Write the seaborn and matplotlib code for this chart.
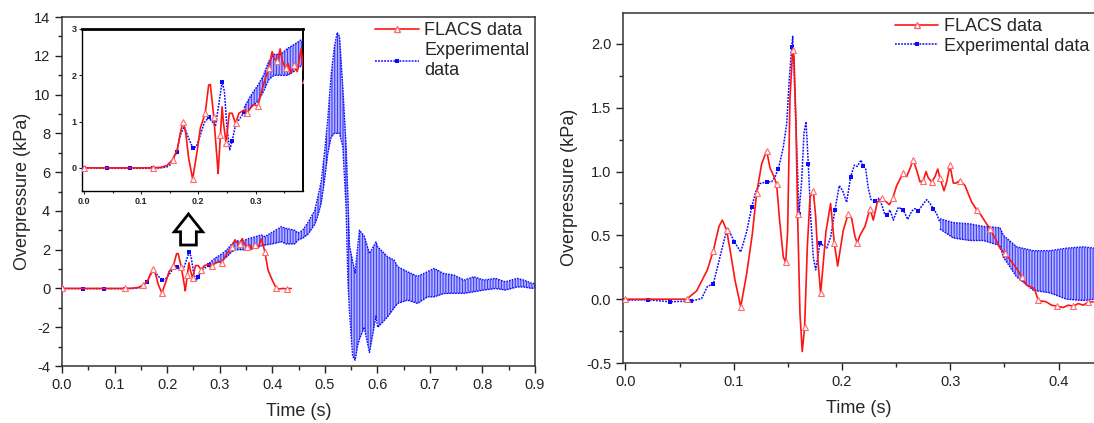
import matplotlib.pyplot as plt
from matplotlib.lines import Line2D
from matplotlib.ticker import MultipleLocator
import seaborn as sns

# ---------------- left chart : FLACS simulation (s, kPa)
flacs_t = [0, 0.04, 0.08, 0.12, 0.133, 0.145, 0.155, 0.163, 0.168, 0.173, 0.178, 0.183, 0.190,
           0.198, 0.2035, 0.212, 0.218, 0.221, 0.227, 0.233, 0.2345, 0.2386, 0.2415, 0.244,
           0.2485, 0.254, 0.259, 0.265, 0.271, 0.28, 0.285, 0.291, 0.297, 0.304, 0.312, 0.3175,
           0.323, 0.329, 0.333, 0.338, 0.343, 0.347, 0.3526, 0.3567, 0.361, 0.367, 0.373, 0.3796,
           0.386, 0.392, 0.400, 0.408, 0.414, 0.42, 0.428, 0.436]
flacs_p = [0, 0, 0, 0, 0.01, 0.05, 0.18, 0.39, 0.72, 1.0, 0.75, 0.21, -0.24,
           0.37, 0.86, 1.18, 1.79, 1.8, 1.1, 0.14, -0.12, 0.71, 1.32, 0.96,
           0.53, 1.18, 1.18, 0.96, 1.18, 1.25, 1.18, 1.29, 1.37, 1.33, 1.72, 1.94,
           2.15, 2.51, 2.36, 2.3, 2.57, 2.3, 2.15, 2.26, 2.04, 2.22, 2.08, 2.57,
           1.89, 0.95, 0.43, 0.0, -0.02, 0.0, -0.02, 0.0]

# ---------------- left chart : experiment, early smooth part
exp_t = [0, 0.04, 0.08, 0.12, 0.135, 0.145, 0.151, 0.1626, 0.1684, 0.1754, 0.183, 0.1907,
         0.1965, 0.2035, 0.2105, 0.218, 0.224, 0.2298, 0.2356, 0.2415, 0.2456, 0.25, 0.2549,
         0.259, 0.265, 0.271, 0.28]
exp_p = [0, -0.01, -0.01, -0.01, 0.0, 0.02, 0.07, 0.35, 0.71, 0.89, 0.64, 0.42,
         0.46, 0.71, 0.98, 1.09, 1.0, 0.9, 1.36, 1.86, 1.65, 0.86, 0.39,
         0.57, 0.93, 1.04, 1.2]

# ---------------- left chart : experiment, oscillating part (lower / upper envelope)
band_t = [0.28, 0.291, 0.305, 0.314, 0.323, 0.332, 0.344, 0.356, 0.367, 0.379, 0.386, 0.40,
          0.4174, 0.426, 0.4427, 0.449, 0.458, 0.468, 0.4806, 0.485, 0.4932, 0.4995, 0.5059,
          0.512, 0.518, 0.5235, 0.528, 0.5344, 0.5406, 0.544, 0.547, 0.553, 0.5577, 0.562,
          0.566, 0.575, 0.585, 0.5975, 0.6006, 0.6196, 0.632, 0.6385, 0.6574, 0.6764, 0.6953,
          0.708, 0.7263, 0.7456, 0.765, 0.7835, 0.8028, 0.8248, 0.8437, 0.8659, 0.8786,
          0.894, 0.9]
band_lo = [1.1, 1.3, 1.45, 1.65, 1.9, 2.0, 2.0, 2.0, 2.08, 2.2, 2.24, 2.3,
           2.41, 2.3, 2.3, 2.5, 2.6, 2.8, 3.3, 3.6, 4.4, 5.6, 7.0,
           7.8, 8.0, 8.0, 8.0, 7.3, 4.1, 0.4, -1.2, -3.5, -3.7, -3.0,
           -2.6, -2.0, -3.3, -1.4, -2.0, -1.46, -1.0, -0.77, -0.6, -0.77, -0.43,
           -0.43, -0.26, -0.25, -0.25, -0.17, -0.08, 0.0, -0.08, 0.08, 0.08,
           0.0, 0.05]
band_hi = [1.3, 1.55, 1.8, 2.0, 2.3, 2.45, 2.45, 2.58, 2.66, 2.76, 2.67, 2.9,
           3.18, 3.1, 3.0, 2.85, 3.0, 3.4, 4.0, 4.5, 5.5, 7.0, 8.8,
           11.0, 12.4, 13.2, 13.0, 10.3, 7.3, 4.7, 2.2, 1.4, 0.8, 2.0,
           3.0, 2.7, 1.8, 2.4, 2.15, 1.63, 1.46, 1.12, 0.86, 0.62, 0.86,
           1.03, 0.77, 0.69, 0.43, 0.6, 0.43, 0.52, 0.34, 0.52, 0.43,
           0.26, 0.25]

# ---------------- right chart : FLACS simulation
r_flacs_t = [0, 0.02, 0.04, 0.0566, 0.0658, 0.0757, 0.0812, 0.0864, 0.0895, 0.0935, 0.0966,
             0.1012, 0.1065, 0.112, 0.1172, 0.1212, 0.1258, 0.128, 0.1305, 0.1335, 0.1372,
             0.1397, 0.1421, 0.1458, 0.148, 0.1498, 0.152, 0.1545, 0.1557, 0.1575, 0.159,
             0.1612, 0.1633, 0.1655, 0.168, 0.1705, 0.1735, 0.1757, 0.178, 0.1803, 0.1852,
             0.1895, 0.1929, 0.196, 0.2012, 0.2058, 0.209, 0.212, 0.2141, 0.2166, 0.2212,
             0.2259, 0.2289, 0.2326, 0.2366, 0.2413, 0.2437, 0.2468, 0.2505, 0.2529, 0.2566,
             0.2597, 0.2635, 0.2658, 0.269, 0.272, 0.2751, 0.2776, 0.2797, 0.2828, 0.2859,
             0.2884, 0.2905, 0.2942, 0.2967, 0.2997, 0.3028, 0.3053, 0.309, 0.3136, 0.3198,
             0.3244, 0.3283, 0.332, 0.3367, 0.3413, 0.3459, 0.3505, 0.3551, 0.3613, 0.3659,
             0.3705, 0.3776, 0.3813, 0.3884, 0.3936, 0.3988, 0.4043, 0.409, 0.4136, 0.4182,
             0.4228, 0.4274, 0.432]
r_flacs_p = [0.0, 0.0, 0.0, 0.0, 0.065, 0.23, 0.38, 0.57, 0.62, 0.54, 0.39,
             0.15, -0.06, 0.2, 0.51, 0.83, 1.06, 1.11, 1.16, 1.03, 0.96,
             0.9, 0.645, 0.33, 0.29, 0.53, 1.585, 1.95, 1.9, 1.38, 0.67,
             -0.11, -0.41, -0.22, 0.41, 0.80, 0.85, 0.65, 0.28, 0.045, 0.53,
             0.75, 0.44, 0.26, 0.54, 0.67, 0.63, 0.49, 0.44, 0.50, 0.57,
             0.71, 0.62, 0.76, 0.79, 0.76, 0.74, 0.79, 0.89, 0.93, 0.99,
             0.96, 1.04, 1.09, 1.01, 0.92, 0.93, 1.0, 0.95, 0.92, 0.96,
             1.02, 0.95, 0.85, 0.92, 1.05, 0.91, 0.91, 0.93, 0.89, 0.76,
             0.70, 0.66, 0.61, 0.55, 0.48, 0.40, 0.36, 0.31, 0.24, 0.175,
             0.11, 0.084, -0.01, -0.02, -0.047, -0.055, -0.065, -0.047, -0.055, -0.034,
             -0.047, -0.021, -0.021]

# ---------------- right chart : experiment, smooth part
r_exp_t = [0, 0.0212, 0.041, 0.0606, 0.0704, 0.0757, 0.0812, 0.0873, 0.092, 0.095, 0.1006,
           0.1065, 0.112, 0.1166, 0.1203, 0.1243, 0.1305, 0.1351, 0.1381, 0.1412, 0.1458,
           0.149, 0.1513, 0.1536, 0.1545, 0.1557, 0.1582, 0.1603, 0.1628, 0.1649, 0.1668,
           0.1689, 0.1711, 0.1735, 0.1757, 0.1797, 0.1827, 0.1859, 0.1896, 0.1935, 0.1975,
           0.2006, 0.2043, 0.208, 0.2114, 0.2141, 0.2176, 0.2197, 0.2219, 0.2243, 0.2268,
           0.2305, 0.2336, 0.2367, 0.2397, 0.2419, 0.2443, 0.2474, 0.252, 0.2566, 0.2607,
           0.2643, 0.2674, 0.2705, 0.2736, 0.2782, 0.2813, 0.2843, 0.2874, 0.2905]
r_exp_p = [-0.008, -0.005, -0.02, -0.015, 0.005, 0.1, 0.12, 0.33, 0.49, 0.55, 0.45,
           0.37, 0.53, 0.72, 0.84, 0.906, 0.92, 0.92, 0.96, 1.02, 1.19,
           1.38, 1.72, 1.98, 2.06, 1.8, 1.19, 0.67, 0.93, 1.30, 1.39,
           1.06, 0.645, 0.33, 0.23, 0.44, 0.42, 0.40, 0.49, 0.70, 0.89,
           0.85, 0.76, 0.96, 1.05, 1.04, 1.09, 1.04, 1.02, 0.87, 0.78,
           0.77, 0.79, 0.74, 0.66, 0.66, 0.70, 0.62, 0.72, 0.70, 0.625,
           0.69, 0.71, 0.69, 0.73, 0.78, 0.75, 0.71, 0.67, 0.6]

# ---------------- right chart : experiment, oscillating part
r_band_t = [0.2905, 0.3028, 0.3182, 0.3305, 0.3459, 0.349, 0.3613, 0.3767, 0.392, 0.4075,
            0.4228, 0.433]
r_band_lo = [0.55, 0.48, 0.46, 0.46, 0.42, 0.33, 0.175, 0.07, 0.05, 0.0, -0.01, 0.0]
r_band_hi = [0.63, 0.60, 0.59, 0.57, 0.56, 0.5, 0.41, 0.38, 0.38, 0.40, 0.41, 0.40]

sns.set_style('ticks')
plt.rcParams['font.family'] = ['Liberation Sans', 'DejaVu Sans']
plt.rcParams['axes.unicode_minus'] = False
plt.rcParams['hatch.linewidth'] = 0.8

RED = '#ff1414'
BLUE = '#0a0aff'
DOTS = (0, (1.2, 0.8))
W, H = 1094, 423

fig = plt.figure(figsize=(W / 100, H / 100), dpi=100)
ax1 = fig.add_axes([62 / W, 1 - 366 / H, (535 - 62) / W, (366 - 17) / H])
ax2 = fig.add_axes([623 / W, 1 - 363 / H, (W - 623) / W, (363 - 12.7) / H])
ax_in = fig.add_axes([82 / W, 1 - 191 / H, (303 - 82) / W, (191 - 29) / H])


def draw_flacs(ax, t, p, every):
    sns.lineplot(x=t, y=p, ax=ax, color=RED, lw=1.2, marker='^', markersize=5,
                 markerfacecolor='white', markeredgecolor='#ff6a6a', markeredgewidth=0.8,
                 markevery=every, estimator=None, sort=False, zorder=4)


def draw_exp(ax, t, p, bt, lo, hi, every):
    sns.lineplot(x=t, y=p, ax=ax, color=BLUE, lw=1.1, ls=DOTS, marker='s', markersize=3.5,
                 markeredgewidth=0, markevery=every, estimator=None, sort=False, zorder=3)
    ax.fill_between(bt, lo, hi, color=BLUE, alpha=0.3, lw=0, zorder=2)
    ax.fill_between(bt, lo, hi, facecolor='none', edgecolor=BLUE, hatch='||||||', lw=0,
                    alpha=0.7, zorder=2)
    sns.lineplot(x=bt, y=lo, ax=ax, color=BLUE, lw=1, ls=DOTS, estimator=None, sort=False, zorder=3)
    sns.lineplot(x=bt, y=hi, ax=ax, color=BLUE, lw=1, ls=DOTS, estimator=None, sort=False, zorder=3)


left_marks = [0, 1, 2, 3, 7, 11, 15, 19, 23, 26]
right_marks = [0, 1, 2, 3, 6, 10, 13, 16, 19, 23, 27, 31, 35, 39, 43, 47, 51, 55, 59, 63, 67]

# left chart
draw_exp(ax1, exp_t, exp_p, band_t, band_lo, band_hi, left_marks)
draw_flacs(ax1, flacs_t, flacs_p, 3)
ax1.set_xlim(0, 0.9)
ax1.set_ylim(-4, 14)
ax1.xaxis.set_major_locator(MultipleLocator(0.1))
ax1.xaxis.set_minor_locator(MultipleLocator(0.05))
ax1.yaxis.set_major_locator(MultipleLocator(2))
ax1.yaxis.set_minor_locator(MultipleLocator(1))
ax1.set_xlabel('Time (s)', fontsize=13, labelpad=8)
ax1.set_ylabel('Overpressure (kPa)', fontsize=13, labelpad=2)
ax1.arrow(0.2406, 2.24, 0, 1.6, width=0.030, head_width=0.054, head_length=0.92,
          length_includes_head=True, fc='white', ec='black', lw=2, zorder=6)

# inset
draw_exp(ax_in, exp_t, exp_p, band_t, band_lo, band_hi, left_marks)
draw_flacs(ax_in, flacs_t, flacs_p, 3)
ax_in.set_xlim(-0.0035, 0.383)
ax_in.set_ylim(-0.5, 3)
ax_in.xaxis.set_major_locator(MultipleLocator(0.1))
ax_in.xaxis.set_minor_locator(MultipleLocator(0.05))
ax_in.yaxis.set_major_locator(MultipleLocator(1))
ax_in.set_xlabel('')
ax_in.set_ylabel('')
ax_in.tick_params(labelsize=6.5, length=2, width=0.8, pad=2)
ax_in.tick_params(which='minor', length=1.5, width=0.8)
for lab in ax_in.get_xticklabels() + ax_in.get_yticklabels():
    lab.set_fontweight('bold')
for side, lw in [('top', 2.0), ('right', 1.4), ('left', 1.0), ('bottom', 1.0)]:
    ax_in.spines[side].set_linewidth(lw)
    ax_in.spines[side].set_color('black')

# right chart
draw_exp(ax2, r_exp_t, r_exp_p, r_band_t, r_band_lo, r_band_hi, right_marks)
draw_flacs(ax2, r_flacs_t, r_flacs_p, 3)
ax2.set_xlim(-0.0022, 0.4327)
ax2.set_ylim(-0.5, 2.245)
ax2.xaxis.set_major_locator(MultipleLocator(0.1))
ax2.xaxis.set_minor_locator(MultipleLocator(0.05))
ax2.yaxis.set_major_locator(MultipleLocator(0.5))
ax2.yaxis.set_minor_locator(MultipleLocator(0.25))
ax2.set_xlabel('Time (s)', fontsize=13, labelpad=8)
ax2.set_ylabel('Overpressure (kPa)', fontsize=13, labelpad=6)
ax2.spines['right'].set_visible(False)

for ax in (ax1, ax2):
    ax.tick_params(which='major', direction='out', length=5, width=1, labelsize=10.5,
                   colors='#222222')
    ax.tick_params(which='minor', direction='out', length=3, width=1)
    for side in ('top', 'right', 'left', 'bottom'):
        ax.spines[side].set_color('#333333')
        ax.spines[side].set_linewidth(1.1)

h_flacs = Line2D([], [], color=RED, lw=1.2, marker='^', ms=5, mfc='white', mec='#ff6a6a')
h_exp = Line2D([], [], color=BLUE, lw=1.1, ls=DOTS, marker='s', ms=3.5, mew=0)
ax1.legend([h_flacs, h_exp], ['FLACS data', 'Experimental\ndata'], loc='upper left',
           bbox_to_anchor=(0.655, 0.995), frameon=False, fontsize=13, handlelength=2.4,
           handletextpad=0.3, borderaxespad=0, borderpad=0.2, labelspacing=0.15)
ax2.legend([h_flacs, h_exp], ['FLACS data', 'Experimental data'], loc='upper left',
           bbox_to_anchor=(0.57, 0.995), frameon=False, fontsize=13, handlelength=2.4,
           handletextpad=0.3, borderaxespad=0, borderpad=0.2, labelspacing=0.15)

fig.savefig('out.png', dpi=100)
